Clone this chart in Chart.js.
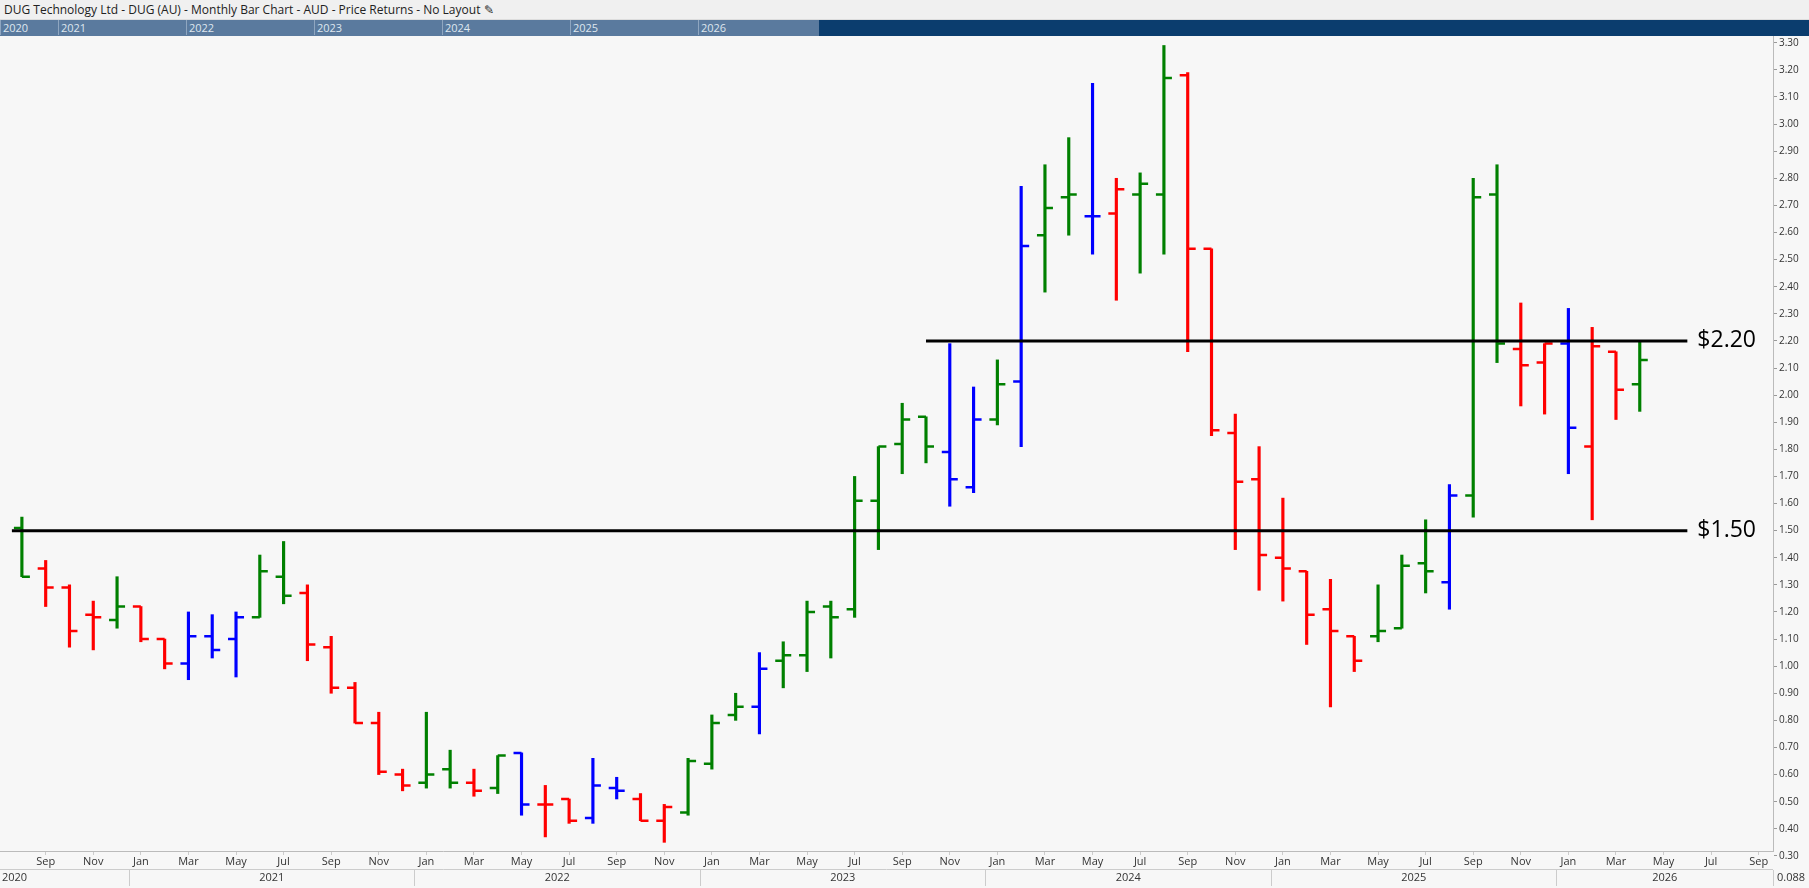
<!DOCTYPE html>
<html>
<head>
<meta charset="utf-8">
<script src="https://cdn.jsdelivr.net/npm/chart.js@4/dist/chart.umd.min.js"></script>
<style>
  body { margin: 0; background: #f7f7f7; font-family: "Open Sans", sans-serif; overflow: hidden; }
  #title { position: relative; z-index: 2; height: 20px; background: #f0f0f0; border-bottom: 1px solid #ddd; font-size: 12px; color: #222; line-height: 20px; padding-left: 4px; box-sizing: border-box; }
  #nav { position: relative; z-index: 2; height: 16px; background: #0b3d6e; }
  #navSel { position: absolute; left: 0; top: 0; width: 819px; height: 16px; background: #5a7a9e; }
  .ny { position: absolute; top: 0; font-size: 11px; color: #dfe7ef; line-height: 15px; border-left: 1px solid #8fa6c0; padding-left: 2px; }
  #wrap { position: absolute; left: 0; top: 28px; width: 1809px; height: 860px; }
</style>
</head>
<body>
<div id="title">DUG Technology Ltd - DUG (AU) - Monthly Bar Chart - AUD - Price Returns - No Layout &#9998;</div>
<div id="nav"><div id="navSel"></div></div>
<div id="wrap"><canvas id="c"></canvas></div>
<script>
// months Aug 2020 .. Sep 2026 (last ones empty)
const monthNames = ['Aug','Sep','Oct','Nov','Dec','Jan','Feb','Mar','Apr','May','Jun','Jul'];
const years = ['2020','2021','2022','2023','2024','2025','2026'];
const navYears = ['2020','2021','2022','2023','2024','2025','2026'];

const opens = [
  1.51,1.36,1.29,1.19,1.17,
  1.22,1.10,1.01,1.11,1.10,1.18,1.33,1.27,1.07,0.92,0.79,0.60,
  0.57,0.62,0.57,0.55,0.68,0.49,0.51,0.44,0.55,0.51,0.43,0.46,
  0.64,0.82,0.85,1.02,1.04,1.22,1.21,1.61,1.82,1.92,1.79,1.66,
  1.91,2.05,2.59,2.73,2.66,2.67,2.74,2.74,3.18,2.54,1.86,1.69,
  1.40,1.35,1.21,1.11,1.11,1.14,1.38,1.31,1.63,2.74,2.17,2.12,
  2.19,1.81,2.16,2.04
];
const highs = [
  1.55,1.39,1.30,1.24,1.33,
  1.22,1.10,1.20,1.19,1.20,1.41,1.46,1.30,1.11,0.94,0.83,0.62,
  0.83,0.69,0.62,0.67,0.68,0.56,0.51,0.66,0.59,0.53,0.49,0.66,
  0.82,0.90,1.05,1.09,1.24,1.24,1.70,1.81,1.97,1.92,2.19,2.03,
  2.13,2.77,2.85,2.95,3.15,2.80,2.82,3.29,3.19,2.54,1.93,1.81,
  1.62,1.35,1.32,1.11,1.30,1.41,1.54,1.67,2.80,2.85,2.34,2.19,
  2.32,2.25,2.16,2.20
];
const lows = [
  1.33,1.22,1.07,1.06,1.14,
  1.09,0.99,0.95,1.03,0.96,1.18,1.23,1.02,0.90,0.79,0.60,0.54,
  0.55,0.55,0.52,0.53,0.45,0.37,0.42,0.42,0.51,0.43,0.35,0.45,
  0.62,0.80,0.75,0.92,0.98,1.03,1.18,1.43,1.71,1.75,1.59,1.64,
  1.89,1.81,2.38,2.59,2.52,2.35,2.45,2.52,2.16,1.85,1.43,1.28,
  1.24,1.08,0.85,0.98,1.09,1.14,1.27,1.21,1.55,2.12,1.96,1.93,
  1.71,1.54,1.91,1.94
];
const closes = [
  1.33,1.29,1.13,1.18,1.22,
  1.10,1.01,1.11,1.06,1.18,1.35,1.26,1.08,0.92,0.79,0.61,0.56,
  0.60,0.57,0.54,0.67,0.49,0.49,0.43,0.56,0.54,0.43,0.48,0.65,
  0.79,0.85,0.99,1.04,1.20,1.18,1.61,1.81,1.91,1.81,1.69,1.91,
  2.04,2.55,2.69,2.74,2.66,2.76,2.78,3.17,2.54,1.87,1.68,1.41,
  1.36,1.19,1.13,1.02,1.13,1.37,1.35,1.63,2.73,2.19,2.11,2.19,
  1.88,2.18,2.02,2.13
];
const barColors = [
  'G','R','R','R','G',
  'R','R','B','B','B','G','G','R','R','R','R','R',
  'G','G','R','G','B','R','R','B','B','R','R','G',
  'G','G','B','G','G','G','G','G','G','G','B','B',
  'G','B','G','G','B','R','G','G','R','R','R','R',
  'R','R','R','R','G','G','G','B','G','G','R','R',
  'B','R','R','G'
];
const colorMap = { G: '#008000', R: '#ff0000', B: '#0000ff' };
const levels = [1.50, 2.20];
const levelStart = [0, 38];
const levelEnd = 70;
const levelLabels = ['$1.50', '$2.20'];
const lastValueLabel = '0.088';

const nMonths = 74;
const monthLabel = i => monthNames[i % 12];

const rangeData = opens.map((o, i) => ({ x: i, y: [lows[i], highs[i]] }));

const ohlcTicks = {
  id: 'ohlcTicks',
  afterDatasetsDraw(chart) {
    const { ctx, scales: { x, y } } = chart;
    ctx.save();
    ctx.lineWidth = 2.5;
    opens.forEach((o, i) => {
      const px = x.getPixelForValue(i);
      ctx.strokeStyle = colorMap[barColors[i]];
      ctx.beginPath();
      ctx.moveTo(px - 8, y.getPixelForValue(o));
      ctx.lineTo(px, y.getPixelForValue(o));
      ctx.moveTo(px, y.getPixelForValue(closes[i]));
      ctx.lineTo(px + 8, y.getPixelForValue(closes[i]));
      ctx.stroke();
    });
    // level lines and their labels
    ctx.strokeStyle = '#000';
    ctx.lineWidth = 3;
    ctx.fillStyle = '#000';
    ctx.font = '23px "Open Sans"';
    ctx.textBaseline = 'middle';
    levels.forEach((lv, k) => {
      const py = y.getPixelForValue(lv);
      ctx.beginPath();
      ctx.moveTo(x.getPixelForValue(levelStart[k]) - (k === 0 ? 10 : 0), py);
      ctx.lineTo(x.getPixelForValue(levelEnd), py);
      ctx.stroke();
      ctx.fillText(levelLabels[k], x.getPixelForValue(levelEnd) + 10, py);
    });
    ctx.restore();
  }
};

const yearRow = {
  id: 'yearRow',
  afterDraw(chart) {
    const { ctx, scales: { x }, chartArea } = chart;
    const top = chartArea.bottom + 19;
    ctx.save();
    ctx.fillStyle = '#333';
    ctx.font = '11px "Open Sans"';
    ctx.textBaseline = 'middle';
    ctx.textAlign = 'center';
    ctx.strokeStyle = '#ccc';
    ctx.lineWidth = 1;
    ctx.beginPath();
    ctx.moveTo(0, chartArea.bottom + 18.5);
    ctx.lineTo(chartArea.right, chartArea.bottom + 18.5);
    ctx.stroke();
    years.forEach((yr, k) => {
      const first = k === 0 ? 0 : 5 + (k - 1) * 12;
      const last = k === 0 ? 4 : first + 11;
      const left = Math.max(chartArea.left, x.getPixelForValue(first - 0.5));
      const right = Math.min(chartArea.right, x.getPixelForValue(last + 0.5));
      ctx.beginPath();
      ctx.moveTo(Math.round(right) + 0.5, top);
      ctx.lineTo(Math.round(right) + 0.5, top + 16);
      ctx.stroke();
      if (k === 0) { ctx.textAlign = 'left'; ctx.fillText(yr, 2, top + 8); ctx.textAlign = 'center'; }
      else ctx.fillText(yr, (left + right) / 2, top + 8);
    });
    ctx.textAlign = 'left';
    ctx.fillText(lastValueLabel, chartArea.right + 4, top + 8);
    ctx.restore();
  }
};

new Chart(document.getElementById('c'), {
  type: 'bar',
  data: {
    datasets: [{
      data: rangeData,
      backgroundColor: barColors.map(c => colorMap[c]),
      barThickness: 2.5,
      borderWidth: 0
    }]
  },
  options: {
    responsive: true,
    maintainAspectRatio: false,
    animation: false,
    layout: { padding: 0 },
    plugins: { legend: { display: false }, tooltip: { enabled: false } },
    scales: {
      x: {
        type: 'linear',
        offset: false,
        min: -0.92,
        max: 73.6,
        grid: { drawOnChartArea: false, offset: false, color: '#ccc', tickLength: 4 },
        border: { color: '#bbb' },
        afterBuildTicks: axis => {
          const t = [];
          for (let i = 1; i < nMonths; i += 2) t.push({ value: i });
          axis.ticks = t;
        },
        afterFit: axis => { axis.height = 37; },
        ticks: {
          autoSkip: false, maxRotation: 0, padding: 0,
          font: { size: 11, family: 'Open Sans' }, color: '#333',
          callback: v => monthLabel(v)
        }
      },
      y: {
        position: 'right',
        min: 0.318,
        max: 3.325,
        grid: { drawOnChartArea: false, color: '#999', tickLength: 4 },
        border: { color: '#bbb' },
        afterBuildTicks: axis => {
          const t = [];
          for (let v = 30; v <= 330; v += 10) t.push({ value: v / 100 });
          axis.ticks = t;
        },
        afterFit: axis => { axis.width = 36; },
        ticks: {
          padding: 2,
          font: { size: 10, family: 'Open Sans' }, color: '#333',
          callback: v => v.toFixed(2)
        }
      }
    }
  },
  plugins: [ohlcTicks, yearRow]
});

// navigator year labels
const nav = document.getElementById('navSel');
navYears.forEach((yr, k) => {
  const d = document.createElement('div');
  d.className = 'ny';
  d.style.left = (k === 0 ? 0 : 58 + (k - 1) * 128) + 'px';
  d.textContent = yr;
  nav.appendChild(d);
});
</script>
</body>
</html>
